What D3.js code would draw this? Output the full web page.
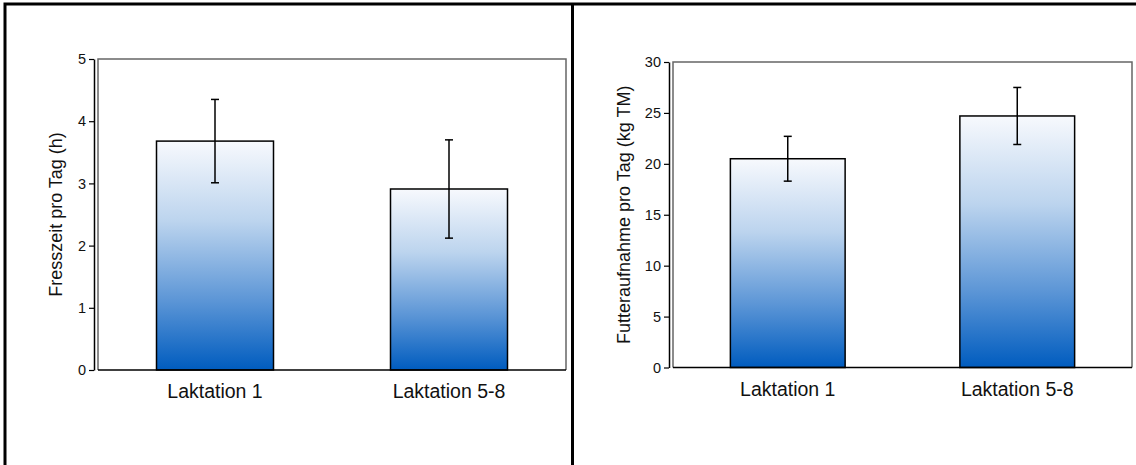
<!DOCTYPE html>
<html>
<head>
<meta charset="utf-8">
<script src="https://cdn.jsdelivr.net/npm/d3@7"></script>
<style>
  body { margin: 0; background: #fff; }
  svg { display: block; font-family: Arial, "Liberation Sans", sans-serif; }
</style>
</head>
<body>
<div id="canvas"></div>
<script>
// data
const categories = ["Laktation 1", "Laktation 5-8"];

const fresszeit = [3.68, 2.91];
const fresszeitErr = [0.67, 0.79];
const fresszeitTicks = [0, 1, 2, 3, 4, 5];

const futter = [20.5, 24.7];
const futterErr = [2.2, 2.8];
const futterTicks = [0, 5, 10, 15, 20, 25, 30];

const W = 1136, H = 465;

let svg = d3.select("#canvas")
  .append("svg")
    .attr("width", W)
    .attr("height", H);

let defs = svg.append("defs");
let grad = defs.append("linearGradient")
    .attr("id", "barGrad")
    .attr("x1", 0).attr("y1", 0)
    .attr("x2", 0).attr("y2", 1);
grad.append("stop").attr("offset", "0%").attr("stop-color", "#f7f9fd");
grad.append("stop").attr("offset", "35%").attr("stop-color", "#bcd4ee");
grad.append("stop").attr("offset", "70%").attr("stop-color", "#5b95d6");
grad.append("stop").attr("offset", "100%").attr("stop-color", "#005cbf");

// outer frame
svg.append("path")
    .attr("d", `M5,${H} V4 H${W}`)
    .attr("fill", "none")
    .attr("stroke", "#000")
    .attr("stroke-width", 3);
svg.append("line")
    .attr("x1", 572.5).attr("x2", 572.5)
    .attr("y1", 4).attr("y2", H)
    .attr("stroke", "#000")
    .attr("stroke-width", 3);

function panel(o) {
  let g = svg.append("g");

  let x = d3.scaleBand()
      .domain(categories)
      .range([o.left, o.right])
      .paddingInner(0.5)
      .paddingOuter(0.25);

  let y = d3.scaleLinear()
      .domain([0, o.max])
      .range([o.bottom, o.top]);

  // plot box
  g.append("path")
      .attr("d", `M${o.left},${o.bottom} V${o.top} H${o.right} V${o.bottom}`)
      .attr("fill", "none")
      .attr("stroke", "#666")
      .attr("stroke-width", 1.5);

  // bars
  g.selectAll("rect.bar")
    .data(o.values)
    .enter()
    .append("rect")
      .attr("class", "bar")
      .attr("x", (d, i) => x(categories[i]))
      .attr("y", d => y(d))
      .attr("width", x.bandwidth())
      .attr("height", d => y(0) - y(d))
      .attr("fill", "url(#barGrad)")
      .attr("stroke", "#000")
      .attr("stroke-width", 1.5);

  // error bars
  let eb = g.selectAll("g.err")
    .data(o.values)
    .enter()
    .append("g")
      .attr("class", "err")
      .attr("stroke", "#000")
      .attr("stroke-width", 1.5);
  let cx = (d, i) => x(categories[i]) + x.bandwidth() / 2;
  eb.append("line")
      .attr("x1", cx).attr("x2", cx)
      .attr("y1", (d, i) => y(d + o.err[i]))
      .attr("y2", (d, i) => y(d - o.err[i]));
  [1, -1].forEach(s => {
    eb.append("line")
        .attr("x1", (d, i) => cx(d, i) - 4)
        .attr("x2", (d, i) => cx(d, i) + 4)
        .attr("y1", (d, i) => y(d + s * o.err[i]))
        .attr("y2", (d, i) => y(d + s * o.err[i]));
  });

  // bottom axis line
  g.append("line")
      .attr("x1", o.left).attr("x2", o.right)
      .attr("y1", o.bottom).attr("y2", o.bottom)
      .attr("stroke", "#000")
      .attr("stroke-width", 1.5);

  // y axis, detached from box
  let yAxis = d3.axisLeft(y)
      .tickValues(o.ticks)
      .tickFormat(d3.format("d"))
      .tickSize(5)
      .tickSizeOuter(0)
      .tickPadding(3);
  let ya = g.append("g")
      .attr("transform", `translate(${o.left - 4},0)`)
      .call(yAxis)
      .attr("font-size", 14.5)
      .attr("font-family", "Arial, 'Liberation Sans', sans-serif");
  ya.select(".domain").attr("stroke-width", 1.5);
  ya.selectAll(".tick line").attr("stroke-width", 1.2);
  ya.selectAll("text").attr("fill", "#111");

  // category labels
  g.selectAll("text.cat")
    .data(categories)
    .enter()
    .append("text")
      .attr("class", "cat")
      .attr("x", d => x(d) + x.bandwidth() / 2)
      .attr("y", o.bottom + 28)
      .attr("text-anchor", "middle")
      .attr("font-size", 19.5)
      .attr("fill", "#111")
      .text(d => d);

  // y title
  g.append("text")
      .attr("transform", `translate(${o.titleX},${(o.top + o.bottom) / 2}) rotate(-90)`)
      .attr("text-anchor", "middle")
      .attr("font-size", 18)
      .attr("fill", "#111")
      .text(o.title);
}

panel({
  left: 98, right: 566, top: 59, bottom: 370,
  max: 5, ticks: fresszeitTicks,
  values: fresszeit, err: fresszeitErr,
  title: "Fresszeit pro Tag (h)", titleX: 62
});

panel({
  left: 673, right: 1132, top: 62, bottom: 367.5,
  max: 30, ticks: futterTicks,
  values: futter, err: futterErr,
  title: "Futteraufnahme pro Tag (kg TM)", titleX: 630
});
</script>
</body>
</html>
